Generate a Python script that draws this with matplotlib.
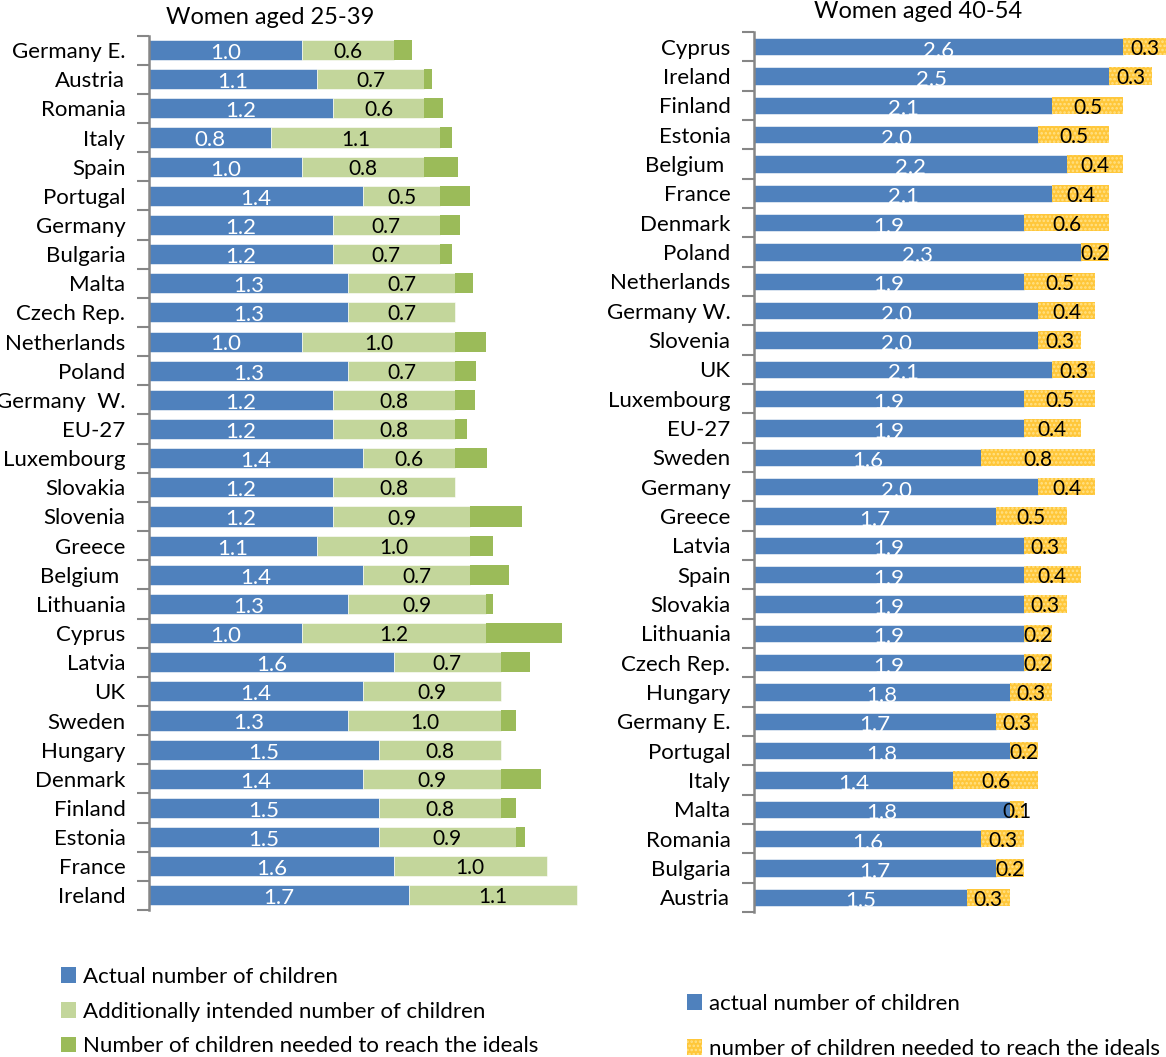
import numpy as np
import matplotlib.pyplot as plt
from matplotlib.patches import Patch

plt.rcParams['font.family'] = ['Lato', 'DejaVu Sans']
plt.rcParams['hatch.linewidth'] = 1.2

# women aged 25-39
young_countries = ["Germany E.", "Austria", "Romania", "Italy", "Spain", "Portugal",
                   "Germany", "Bulgaria", "Malta", "Czech Rep.", "Netherlands", "Poland",
                   "Germany  W.", "EU-27", "Luxembourg", "Slovakia", "Slovenia", "Greece",
                   "Belgium ", "Lithuania", "Cyprus", "Latvia", "UK", "Sweden", "Hungary",
                   "Denmark", "Finland", "Estonia", "France", "Ireland"]
young_actual = [1.0, 1.1, 1.2, 0.8, 1.0, 1.4, 1.2, 1.2, 1.3, 1.3, 1.0, 1.3, 1.2, 1.2, 1.4,
                1.2, 1.2, 1.1, 1.4, 1.3, 1.0, 1.6, 1.4, 1.3, 1.5, 1.4, 1.5, 1.5, 1.6, 1.7]
young_intended = [0.6, 0.7, 0.6, 1.1, 0.8, 0.5, 0.7, 0.7, 0.7, 0.7, 1.0, 0.7, 0.8, 0.8, 0.6,
                  0.8, 0.9, 1.0, 0.7, 0.9, 1.2, 0.7, 0.9, 1.0, 0.8, 0.9, 0.8, 0.9, 1.0, 1.1]
young_ideal = [0.12, 0.05, 0.12, 0.08, 0.22, 0.20, 0.13, 0.08, 0.12, 0.0, 0.20, 0.14, 0.13,
               0.08, 0.21, 0.0, 0.34, 0.15, 0.25, 0.05, 0.50, 0.19, 0.0, 0.10, 0.0, 0.26,
               0.10, 0.06, 0.0, 0.0]

# women aged 40-54
older_countries = ["Cyprus", "Ireland", "Finland", "Estonia", "Belgium ", "France", "Denmark",
                   "Poland", "Netherlands", "Germany W.", "Slovenia", "UK", "Luxembourg",
                   "EU-27", "Sweden", "Germany", "Greece", "Latvia", "Spain", "Slovakia",
                   "Lithuania", "Czech Rep.", "Hungary", "Germany E.", "Portugal", "Italy",
                   "Malta", "Romania", "Bulgaria", "Austria"]
older_actual = [2.6, 2.5, 2.1, 2.0, 2.2, 2.1, 1.9, 2.3, 1.9, 2.0, 2.0, 2.1, 1.9, 1.9, 1.6,
                2.0, 1.7, 1.9, 1.9, 1.9, 1.9, 1.9, 1.8, 1.7, 1.8, 1.4, 1.8, 1.6, 1.7, 1.5]
older_ideal = [0.3, 0.3, 0.5, 0.5, 0.4, 0.4, 0.6, 0.2, 0.5, 0.4, 0.3, 0.3, 0.5, 0.4, 0.8,
               0.4, 0.5, 0.3, 0.4, 0.3, 0.2, 0.2, 0.3, 0.3, 0.2, 0.6, 0.1, 0.3, 0.2, 0.3]

BLUE = '#4F81BD'
LIGHT_GREEN = '#C3D69B'
GREEN = '#9BBB59'
GOLD = '#FFC73A'
DOTS = '#FFE28A'
SPINE = '#868686'
FS = 16

fig = plt.figure(figsize=(11.66, 10.57), dpi=100)
ax1 = fig.add_axes([149 / 1166, 1 - 910 / 1057, 459 / 1166, (910 - 35.5) / 1057])
ax2 = fig.add_axes([754 / 1166, 1 - 912 / 1057, 412 / 1166, (912 - 32) / 1057])


def style_axis(ax, labels):
    n = len(labels)
    ax.set_ylim(n - 0.5, -0.5)
    ax.set_yticks(np.arange(n))
    ax.set_yticklabels(labels, fontsize=FS)
    ax.set_yticks(np.arange(n + 1) - 0.5, minor=True)
    ax.tick_params(axis='y', which='major', length=0, pad=17)
    ax.tick_params(axis='y', which='minor', length=9, width=1.5, color=SPINE, direction='out')
    ax.set_xticks([])
    for side in ['top', 'right', 'bottom']:
        ax.spines[side].set_visible(False)
    ax.spines['left'].set_color(SPINE)
    ax.spines['left'].set_linewidth(1.8)


# left panel
y1 = np.arange(len(young_countries))
a = np.array(young_actual)
b = np.array(young_intended)
c = np.array(young_ideal)
h1 = 0.69
ax1.barh(y1, a, height=h1, color=BLUE, edgecolor='white', linewidth=0.4)
ax1.barh(y1, b, left=a, height=h1, color=LIGHT_GREEN, edgecolor='white', linewidth=0.4)
ax1.barh(y1, c, left=a + b, height=h1, color=GREEN, linewidth=0)
for yi, ai, bi in zip(y1, a, b):
    ax1.text(ai / 2, yi + 0.1, f"{ai:.1f}", color='white', fontsize=FS, ha='center', va='center')
    ax1.text(ai + bi / 2, yi + 0.07, f"{bi:.1f}", color='black', fontsize=FS - 1, ha='center', va='center')
ax1.set_xlim(0, 3.0)
style_axis(ax1, young_countries)

# right panel
y2 = np.arange(len(older_countries))
d = np.array(older_actual)
e = np.array(older_ideal)
h2 = 0.6
ax2.barh(y2, d, height=h2, color=BLUE, edgecolor='white', linewidth=0.4)
ax2.barh(y2, e, left=d, height=h2, color=GOLD, edgecolor=DOTS, hatch='....', linewidth=0)
for yi, di, ei in zip(y2, d, e):
    ax2.text(di / 2, yi + 0.14, f"{di:.1f}", color='white', fontsize=FS, ha='center', va='center')
    ax2.text(di + ei / 2, yi + 0.08, f"{ei:.1f}", color='black', fontsize=FS - 1, ha='center', va='center')
ax2.set_xlim(0, 2.9)
style_axis(ax2, older_countries)

fig.text(270 / 1166, 1 - 17 / 1057, "Women aged 25-39", fontsize=FS + 1, ha='center', va='center')
fig.text(918 / 1166, 1 - 11 / 1057, "Women aged 40-54", fontsize=FS + 1, ha='center', va='center')

left_handles = [Patch(facecolor=BLUE), Patch(facecolor=LIGHT_GREEN), Patch(facecolor=GREEN)]
left_labels = ["Actual number of children", "Additionally intended number of children",
               "Number of children needed to reach the ideals"]
fig.legend(left_handles, left_labels, loc='upper left', bbox_to_anchor=(52 / 1166, 1 - 958 / 1057),
           frameon=False, fontsize=FS, handlelength=0.7, handleheight=0.7,
           handletextpad=0.3, labelspacing=0.66, borderaxespad=0)

right_handles = [Patch(facecolor=BLUE),
                 Patch(facecolor=GOLD, edgecolor=DOTS, hatch='....', linewidth=0)]
right_labels = ["actual number of children", "number of children needed to reach the ideals"]
fig.legend(right_handles, right_labels, loc='upper left', bbox_to_anchor=(678 / 1166, 1 - 985 / 1057),
           frameon=False, fontsize=FS, handlelength=0.7, handleheight=0.7,
           handletextpad=0.3, labelspacing=1.12, borderaxespad=0)

fig.savefig('out.png', dpi=100)
